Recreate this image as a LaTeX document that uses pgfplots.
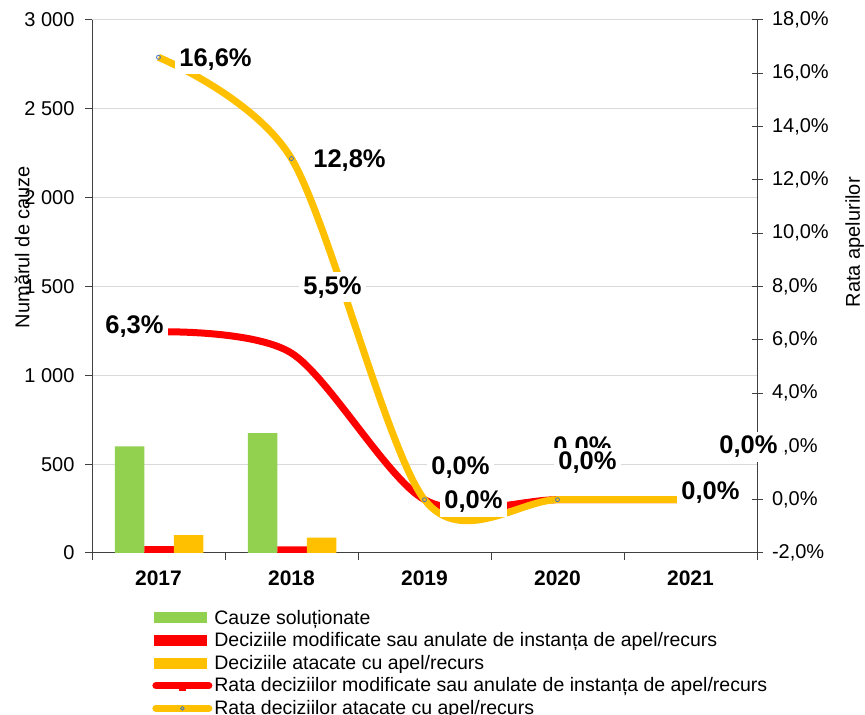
\documentclass[border=0pt]{standalone}
\usepackage{pgfplots}
\pgfplotsset{compat=1.18}
\usepackage{pgfplotstable}
\usepackage{fontspec}
\setmainfont{Liberation Sans}

\definecolor{cgreen}{HTML}{92D050}
\definecolor{cred}{HTML}{FF0000}
\definecolor{cyel}{HTML}{FFC000}
\definecolor{cgrid}{HTML}{D9D9D9}
\definecolor{cmark}{HTML}{4472C4}
\definecolor{caxis}{HTML}{404040}

% bars: counts per year (0=2017 ... 4=2021)
\pgfplotstableread{
x cauze modif atacate
0 600 38 100
1 675 37 86
}\bars

% rates in %, dx/dy = label offsets in pt
\pgfplotstableread{
x rata dx dy
0 6.3 -24 5
1 5.5 41 66
2 0 36 32
3 0 25 52
4 0 58 53
}\ratamod

\pgfplotstableread{
x rata dx dy
0 16.6 57 -2
1 12.8 58 -2
2 0 49 -2
3 0 30 37
4 0 20 7
}\rataatac

\pgfplotsset{
  base/.style={
    at={(92pt,162pt)}, anchor=south west,
    scale only axis, width=665pt, height=533pt,
    xmin=-0.5, xmax=4.5,
    /pgf/number format/assume math mode=true,
    tick label style={font=\fontsize{20}{24}\selectfont},
    label style={font=\fontsize{20}{24}\selectfont},
  },
  lbl/.style={
    draw=none, mark=none,
    visualization depends on={\thisrow{dx}\as\dx},
    visualization depends on={\thisrow{dy}\as\dy},
    nodes near coords={\pgfmathprintnumber[fixed,fixed zerofill,precision=1,use comma]{\pgfplotspointmeta}\%},
    every node near coord/.style={anchor=center, xshift=\dx pt, yshift=\dy pt,
      fill=white, inner sep=4pt, text=black, font=\bfseries\fontsize{25.5}{30}\selectfont},
  },
}

\begin{document}
\begin{tikzpicture}
\path[use as bounding box] (0,0) rectangle (865pt,715pt);

\begin{axis}[base,
  ymin=0, ymax=3000, ytick={0,500,...,3000},
  /pgf/number format/1000 sep={\ },
  axis y line*=left, axis x line*=bottom,
  axis line style={caxis, line width=1pt},
  ymajorgrids, grid style={cgrid, line width=1pt},
  xtick={0,...,4}, xticklabels={2017,2018,2019,2020,2021},
  xticklabel style={font=\bfseries\fontsize{21}{25}\selectfont, yshift=-7pt},
  yticklabel style={xshift=-7pt},
  major x tick style={draw=none},
  minor xtick={-0.5,0.5,...,4.5},
  minor tick length=7pt, major tick length=7pt,
  tick align=outside, tick style={caxis, line width=1pt},
  ylabel={Numărul de cauze},
  ylabel style={at={(rel axis cs:-0.105,0.574)}, anchor=center},
  legend style={at={(0.086,-0.099)}, anchor=north west, draw=none, fill=none,
    font=\fontsize{19.5}{22}\selectfont, row sep=3pt,
    cells={anchor=west}},
  legend cell align=left,
]
\addplot[ybar, bar width=29.5pt, bar shift=-29pt, fill=cgreen, draw=none,
  legend image code/.code={\fill[cgreen] (0pt,-5.5pt) rectangle (53pt,5.5pt);}]
  table[x=x,y=cauze]{\bars};
\addlegendentry{Cauze soluționate}
\addplot[ybar, bar width=29.5pt, bar shift=0.5pt, fill=cred, draw=none,
  legend image code/.code={\fill[cred] (0pt,-5.5pt) rectangle (53pt,5.5pt);}]
  table[x=x,y=modif]{\bars};
\addlegendentry{Deciziile modificate sau anulate de instanța de apel/recurs}
\addplot[ybar, bar width=29.5pt, bar shift=30pt, fill=cyel, draw=none,
  legend image code/.code={\fill[cyel] (0pt,-5.5pt) rectangle (53pt,5.5pt);}]
  table[x=x,y=atacate]{\bars};
\addlegendentry{Deciziile atacate cu apel/recurs}
\addlegendimage{legend image code/.code={
  \draw[cred, line width=7pt, line cap=round] (1.5pt,0pt) -- (54.5pt,0pt);
  \fill[cred] (25pt,-5pt) rectangle (31pt,0pt);}}
\addlegendentry{Rata deciziilor modificate sau anulate de instanța de apel/recurs}
\addlegendimage{legend image code/.code={
  \draw[cyel, line width=7pt, line cap=round] (1.5pt,0pt) -- (54.5pt,0pt);
  \draw[cmark, line width=0.8pt] (28pt,0pt) circle (1.8pt);}}
\addlegendentry{Rata deciziilor atacate cu apel/recurs}
\end{axis}

\begin{axis}[base,
  ymin=-2, ymax=18, ytick={-2,0,...,18},
  axis y line*=right, axis x line=none,
  axis line style={caxis, line width=1pt},
  tick align=center, major tick length=11pt, tick style={caxis, line width=1pt},
  yticklabel={\pgfmathprintnumber[fixed,fixed zerofill,precision=1,use comma]{\tick}\%},
  yticklabel style={xshift=6pt},
  ylabel={Rata apelurilor},
  ylabel style={at={(rel axis cs:1.147,0.583)}, anchor=center},
  clip=false,
]
\addplot[cred, line width=7pt, smooth, mark=none] table[x=x,y=rata]{\ratamod};
\addplot[cyel, line width=7pt, smooth, mark=none] table[x=x,y=rata]{\rataatac};
\addplot[only marks, mark=o, mark size=2pt, cmark, line width=0.8pt] table[x=x,y=rata]{\rataatac};
\addplot[lbl] table[x=x,y=rata]{\ratamod};
\addplot[lbl] table[x=x,y=rata]{\rataatac};
\end{axis}
\end{tikzpicture}
\end{document}
